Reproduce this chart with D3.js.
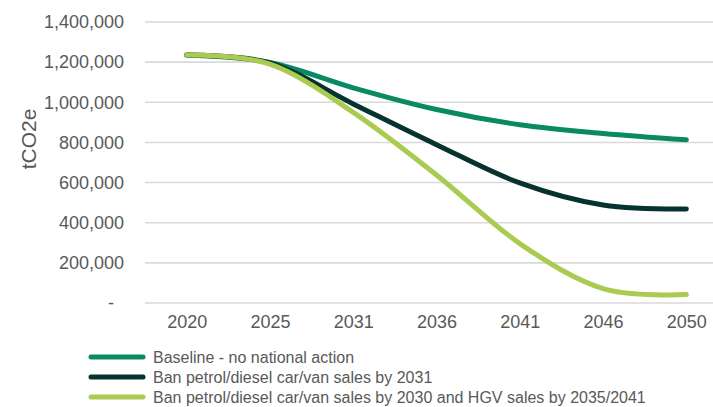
<!DOCTYPE html>
<html>
<head>
<meta charset="utf-8">
<script src="https://cdn.jsdelivr.net/npm/d3@7"></script>
<style>
  html, body { margin: 0; padding: 0; background: #fff; }
  svg { display: block; font-family: "Liberation Sans", Arial, sans-serif; }
</style>
</head>
<body>
<svg id="chart" width="713" height="407"></svg>
<script>
// Road transport emissions scenarios (tCO2e)
const years = ["2020", "2025", "2031", "2036", "2041", "2046", "2050"];
const baseline = [1235000, 1198000, 1072000, 964000, 888000, 845000, 813000];
const ban2031 = [1235000, 1196000, 992000, 789000, 598000, 488000, 468000];
const banHgv = [1235000, 1190000, 950000, 638000, 296000, 72000, 42000];
const seriesNames = [
  "Baseline - no national action",
  "Ban petrol/diesel car/van sales by 2031",
  "Ban petrol/diesel car/van sales by 2030 and HGV sales by 2035/2041"
];
const seriesColors = ["#0a8a63", "#06332f", "#a9cb50"];
const yTicks = [0, 200000, 400000, 600000, 800000, 1000000, 1200000, 1400000];

const series = [baseline, ban2031, banHgv].map((values, i) => ({
  name: seriesNames[i], color: seriesColors[i], values
}));

const svg = d3.select("#chart");
const plot = { left: 145, right: 728, top: 22, bottom: 303 };

const x = d3.scalePoint().domain(years).range([plot.left, plot.right]).padding(0.5);
const y = d3.scaleLinear().domain([0, 1400000]).range([plot.bottom, plot.top]);

// Horizontal gridlines
svg.append("g")
  .selectAll("line")
  .data(yTicks)
  .join("line")
  .attr("x1", plot.left).attr("x2", plot.right)
  .attr("y1", d => y(d)).attr("y2", d => y(d))
  .attr("stroke", "#d9d9d9").attr("stroke-width", 1.6);

// Y axis labels
const yAxis = svg.append("g")
  .attr("transform", `translate(${plot.left - 21},0)`)
  .call(d3.axisLeft(y).tickValues(yTicks).tickSize(0).tickPadding(0)
    .tickFormat(d => d === 0 ? "-" : d3.format(",")(d)));
yAxis.select(".domain").remove();
yAxis.selectAll("text")
  .attr("fill", "#595959").attr("font-size", 18)
  .attr("font-family", "'Liberation Sans', Arial, sans-serif")
  .attr("dx", d => d === 0 ? -10 : 0);

// X axis labels
const xAxis = svg.append("g")
  .attr("transform", `translate(0,${plot.bottom + 12})`)
  .call(d3.axisBottom(x).tickSize(0).tickPadding(0));
xAxis.select(".domain").remove();
xAxis.selectAll("text")
  .attr("fill", "#595959").attr("font-size", 18)
  .attr("font-family", "'Liberation Sans', Arial, sans-serif")
  .attr("dy", "0.71em");

// Axis title
svg.append("text")
  .attr("transform", "translate(36,139) rotate(-90)")
  .attr("text-anchor", "middle")
  .attr("fill", "#595959").attr("font-size", 21)
  .text("tCO2e");

// Smoothed scenario lines
const line = d3.line()
  .x((d, i) => x(years[i]))
  .y(d => y(d))
  .curve(d3.curveCardinal.tension(0));

svg.append("g")
  .selectAll("path")
  .data(series)
  .join("path")
  .attr("d", d => line(d.values))
  .attr("fill", "none")
  .attr("stroke", d => d.color)
  .attr("stroke-width", 5)
  .attr("stroke-linecap", "round")
  .attr("stroke-linejoin", "round");

// Legend
const legend = svg.append("g")
  .selectAll("g")
  .data(series)
  .join("g")
  .attr("transform", (d, i) => `translate(0,${357 + i * 20})`);
legend.append("line")
  .attr("x1", 91).attr("x2", 143)
  .attr("stroke", d => d.color).attr("stroke-width", 5)
  .attr("stroke-linecap", "round");
legend.append("text")
  .attr("x", 153).attr("dy", "0.35em")
  .attr("fill", "#595959").attr("font-size", 16)
  .text(d => d.name);
</script>
</body>
</html>
